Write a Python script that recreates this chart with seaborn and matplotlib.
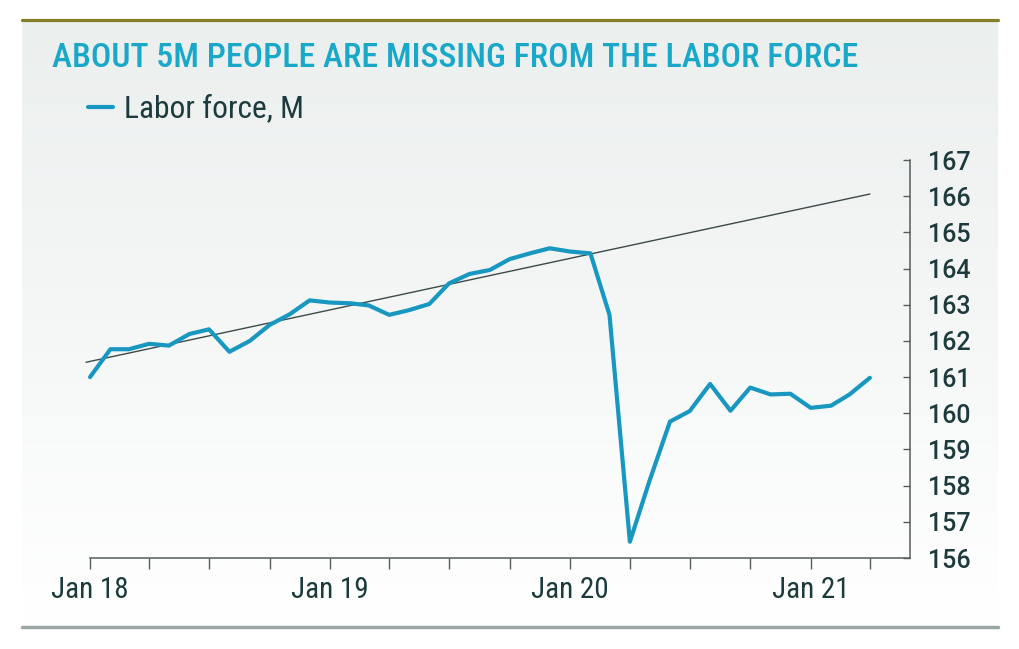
import numpy as np
import pandas as pd
import matplotlib
matplotlib.use("Agg")
import matplotlib.pyplot as plt
import matplotlib.dates as mdates
from matplotlib import font_manager
from matplotlib.lines import Line2D
import seaborn as sns

# ---------------- data ----------------
months = pd.date_range("2018-01-01", "2021-04-01", freq="MS")
labor_force = [161.00, 161.77, 161.77, 161.92, 161.87, 162.19, 162.32, 161.70, 162.00, 162.44, 162.74, 163.12,
               163.06, 163.04, 162.98, 162.72, 162.85, 163.02, 163.59, 163.85, 163.96, 164.26, 164.42, 164.56,
               164.47, 164.42, 162.72, 156.45, 158.14, 159.77, 160.06, 160.81, 160.07, 160.71, 160.52, 160.54,
               160.15, 160.21, 160.52, 160.98]
trend_dates = pd.to_datetime(["2017-12-26", "2021-04-01"])
trend_values = [161.41, 166.06]
tick_dates = pd.date_range("2018-01-01", "2021-04-01", freq="3MS")
tick_labels = ["Jan 18", "", "", "", "Jan 19", "", "", "", "Jan 20", "", "", "", "Jan 21", ""]
y_ticks = list(range(156, 168))
title_text = "ABOUT 5M PEOPLE ARE MISSING FROM THE LABOR FORCE"
series_name = "Labor force, M"

df = pd.DataFrame({"date": months, "value": labor_force, "series": series_name})
trend_df = pd.DataFrame({"date": trend_dates, "value": trend_values})

# ---------------- style ----------------
sns.set_theme(style="white")
names = {f.name for f in font_manager.fontManager.ttflist}
base_font = "Roboto" if "Roboto" in names else "DejaVu Sans"
cond_font = base_font
for cand in ["Roboto Condensed", "Liberation Sans Narrow"]:
    if cand in names:
        cond_font = cand
        break
plt.rcParams["font.family"] = [base_font, "DejaVu Sans"]

LINE = "#1897c0"
TITLE = "#1aa8c8"
TEXT = "#1d3a3c"
AXC = "#555c5c"
W, H = 1020, 649

fig = plt.figure(figsize=(W / 100, H / 100), dpi=100)
fig.patch.set_facecolor("white")

def fx(px):
    return px / W

def fy(py):
    return 1 - py / H

# gradient panel
bg = fig.add_axes([fx(22), fy(625), fx(998) - fx(22), fy(22) - fy(625)], zorder=0)
top_c = np.array(matplotlib.colors.to_rgb("#ebefee"))
bot_c = np.array([1.0, 1.0, 1.0])
t = np.linspace(0, 1, 256)[:, None]
grad = top_c[None, :] * (1 - t) + bot_c[None, :] * t
bg.imshow(grad[:, None, :], aspect="auto", extent=[0, 1, 0, 1], interpolation="bicubic")
bg.set_axis_off()

# rules
fig.add_artist(Line2D([fx(22), fx(998)], [fy(20), fy(20)], color="#857f2a", lw=2.3, transform=fig.transFigure))
fig.add_artist(Line2D([fx(22), fx(998)], [fy(627), fy(627)], color="#9ba6a6", lw=2.5, transform=fig.transFigure))

# main axes
x_left_date = pd.Timestamp("2017-12-25")
x_right_date = pd.Timestamp("2021-06-01")
ax = fig.add_axes([fx(85.4), fy(558), fx(910) - fx(85.4), fy(160) - fy(558)], zorder=2)
ax.patch.set_alpha(0)

sns.lineplot(data=trend_df, x="date", y="value", ax=ax, color="#3d4a4a", lw=1.0, legend=False)
sns.lineplot(data=df, x="date", y="value", hue="series", palette=[LINE], ax=ax, lw=3.0)
for l in ax.lines:
    l.set_solid_joinstyle("round")

ax.set_xlim(x_left_date, x_right_date)
ax.set_ylim(156, 167)
ax.set_xlabel("")
ax.set_ylabel("")

for s in ["left", "top"]:
    ax.spines[s].set_visible(False)
for s in ["bottom", "right"]:
    ax.spines[s].set_color(AXC)
    ax.spines[s].set_linewidth(1.1)
ax.spines["bottom"].set_bounds(mdates.date2num(pd.Timestamp("2018-01-01")), mdates.date2num(x_right_date))

ax.set_xticks(tick_dates)
ax.set_xticklabels(tick_labels)
ax.yaxis.tick_right()
ax.set_yticks(y_ticks)
ax.set_yticklabels([str(v) for v in y_ticks])
ax.tick_params(axis="x", bottom=True, top=False, direction="out", length=8, width=1.0, color=AXC, pad=5,
               labelsize=21, labelcolor=TEXT)
ax.tick_params(axis="y", direction="in", length=5, width=1.0, color=AXC, pad=13,
               labelsize=18, labelcolor=TEXT, right=True, left=False)
for lab in ax.get_xticklabels():
    lab.set_family([cond_font, "DejaVu Sans"])
    lab.set_fontweight("normal")
for lab in ax.get_yticklabels():
    lab.set_fontweight("medium")
ax.grid(False)

# legend
leg = ax.legend(loc="center left", bbox_to_anchor=(fx(88), fy(109)), bbox_transform=fig.transFigure,
                frameon=False, borderpad=0, borderaxespad=0, handlelength=0.85, handletextpad=0.4,
                prop={"family": [cond_font, "DejaVu Sans"], "size": 21, "weight": "normal"})
for txt in leg.get_texts():
    txt.set_color(TEXT)
for h in leg.legend_handles:
    h.set_linewidth(3.0)

# title, fit to width
title = fig.text(fx(52), fy(58), title_text, color=TITLE, fontsize=20, fontweight=500,
                 family=[cond_font, "DejaVu Sans"], va="center", ha="left")
fig.canvas.draw()
bb = title.get_window_extent()
title.set_fontsize(20 * 806 / bb.width)
bbl = leg.get_texts()[0].get_window_extent()
leg.get_texts()[0].set_fontsize(21 * 180 / bbl.width)

fig.savefig("out.png", dpi=100, facecolor="white")
